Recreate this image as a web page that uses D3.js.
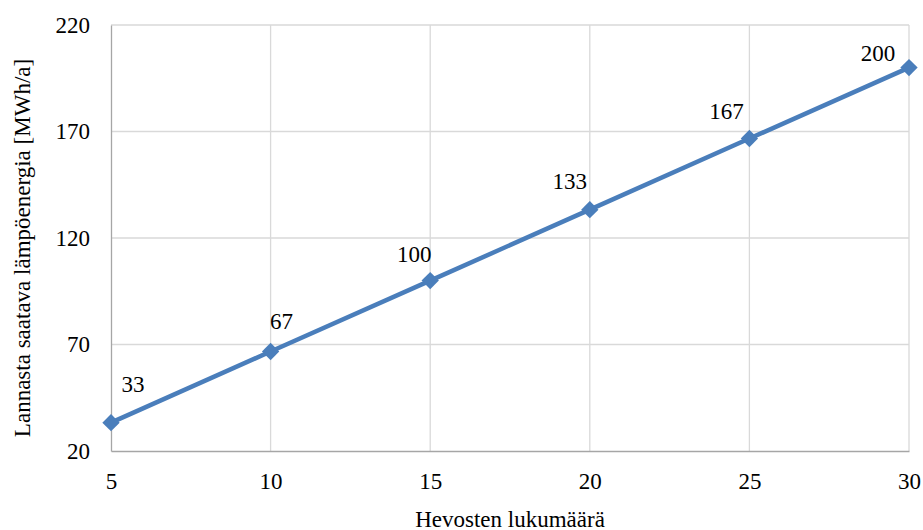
<!DOCTYPE html>
<html><head><meta charset="utf-8">
<script src="https://cdn.jsdelivr.net/npm/d3@7"></script>
<style>body{margin:0;background:#fff}svg{display:block}</style>
</head><body>
<script>
const horses = [5, 10, 15, 20, 25, 30];
const energy = [33.3, 66.7, 100, 133.3, 166.7, 200];
const yTicks = [20, 70, 120, 170, 220];
const xTicks = [5, 10, 15, 20, 25, 30];
const xTitle = "Hevosten lukumäärä";
const yTitle = "Lannasta saatava lämpöenergia [MWh/a]";
// label placement offsets (dx, dy) relative to each point
const labelDx = [22, 11, -16, -20, -23, -31];
const labelDy = [-38, -30, -26, -28, -27, -14];

const FONT = "'Liberation Serif', 'Times New Roman', Tinos, 'DejaVu Serif', serif";
const FS = 23;
const W = 923, H = 530;
const m = {left: 111, right: 14, top: 25, bottom: 79};
const svg = d3.select("body").append("svg").attr("width", W).attr("height", H);
const x = d3.scaleLinear().domain([5, 30]).range([m.left, W - m.right]);
const y = d3.scaleLinear().domain([20, 220]).range([H - m.bottom, m.top]);

// gridlines
svg.append("g").selectAll("line.h").data(yTicks.slice(1)).join("line")
  .attr("x1", m.left).attr("x2", W - m.right)
  .attr("y1", d => y(d)).attr("y2", d => y(d))
  .attr("stroke", "#d9d9d9").attr("stroke-width", 1.3);
svg.append("g").selectAll("line.v").data(xTicks.slice(1)).join("line")
  .attr("y1", m.top).attr("y2", H - m.bottom)
  .attr("x1", d => x(d)).attr("x2", d => x(d))
  .attr("stroke", "#d9d9d9").attr("stroke-width", 1.3);

// axes
const xAxis = svg.append("g").attr("transform", `translate(0,${H - m.bottom})`)
  .call(d3.axisBottom(x).tickValues(xTicks).tickSize(0).tickPadding(22).tickFormat(d3.format("d")));
const yAxis = svg.append("g").attr("transform", `translate(${m.left},0)`)
  .call(d3.axisLeft(y).tickValues(yTicks).tickSize(0).tickPadding(21).tickFormat(d3.format("d")));
[xAxis, yAxis].forEach(a => {
  a.attr("font-family", FONT).attr("font-size", FS);
  a.select(".domain").attr("stroke", "#a6a6a6").attr("stroke-width", 1.3);
  a.selectAll("text").attr("fill", "#000");
});

// line
const pts = horses.map((h, i) => ({h, e: energy[i], i}));
svg.append("path").datum(pts)
  .attr("d", d3.line().x(d => x(d.h)).y(d => y(d.e)))
  .attr("fill", "none").attr("stroke", "#4a7ebb").attr("stroke-width", 4.5);
svg.append("g").selectAll("path").data(pts).join("path")
  .attr("d", d3.symbol(d3.symbolSquare, 150)())
  .attr("transform", d => `translate(${x(d.h)},${y(d.e)}) rotate(45)`)
  .attr("fill", "#4a7ebb");

// labels
svg.append("g").attr("font-family", FONT).attr("font-size", FS)
  .selectAll("text").data(pts).join("text")
  .attr("x", d => x(d.h) + labelDx[d.i]).attr("y", d => y(d.e) + labelDy[d.i])
  .attr("text-anchor", "middle").attr("dominant-baseline", "central")
  .text(d => d3.format(".0f")(d.e));

// titles
svg.append("text").attr("x", (m.left + W - m.right) / 2).attr("y", 519)
  .attr("text-anchor", "middle").attr("dominant-baseline", "central")
  .attr("font-family", FONT).attr("font-size", FS).text(xTitle);
svg.append("text").attr("transform", `translate(22,${(m.top + H - m.bottom) / 2 + 10}) rotate(-90)`)
  .attr("text-anchor", "middle").attr("dominant-baseline", "central")
  .attr("font-family", FONT).attr("font-size", FS).text(yTitle);
</script>
</body></html>
